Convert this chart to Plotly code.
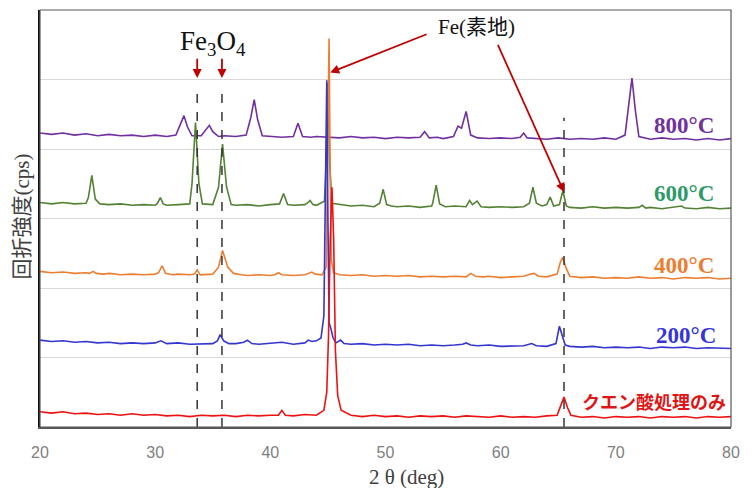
import plotly.graph_objects as go

# ---------------- data ----------------
x_800 = [20,21,22,23,24,25,26,27,28,29,30,31,31.8,32.2,32.5,32.8,33.2,34.0,34.4,34.7,35.0,35.5,36,37,37.9,38.3,38.6,38.9,39.3,40,41,42.0,42.4,42.8,43.5,44,45,46,47,48,49,50,51,52,53.0,53.4,53.8,54.5,55,55.9,56.3,56.6,57.0,57.4,58,59,60,61,61.7,62.0,62.3,63,64,65,66,67,68,69,70,70.8,71.1,71.4,71.7,72.0,73,74,75,76,77,78,79,80]
y_800 = [4.23,4.21,4.23,4.20,4.22,4.19,4.21,4.19,4.20,4.18,4.20,4.18,4.20,4.35,4.48,4.32,4.19,4.19,4.27,4.34,4.25,4.18,4.19,4.18,4.20,4.45,4.71,4.42,4.19,4.18,4.17,4.18,4.37,4.18,4.17,4.18,4.17,4.16,4.18,4.16,4.17,4.15,4.17,4.16,4.17,4.25,4.16,4.17,4.15,4.18,4.33,4.30,4.54,4.20,4.16,4.15,4.16,4.15,4.17,4.23,4.16,4.15,4.14,4.16,4.14,4.15,4.14,4.16,4.14,4.20,4.60,5.02,4.55,4.18,4.14,4.16,4.14,4.15,4.13,4.15,4.13,4.15]

x_600 = [20,21,22,23,24,24.2,24.5,24.8,25.2,26,27,28,29,30,30.2,30.45,30.7,31,32,33,33.2,33.5,33.8,34.1,35,35.5,35.85,36.2,36.6,37,38,39,40,40.8,41.15,41.5,42,43,43.2,43.45,43.7,44,44.7,44.85,45.0,45.15,45.35,46,47,48,49,49.5,49.8,50.1,50.5,51,52,53,54,54.1,54.4,54.7,55.2,56,57,57.3,57.55,57.95,58.3,59,60,61,62,62.5,62.8,63.1,63.6,64.0,64.3,64.6,65.1,65.4,65.7,66,67,68,69,70,71,72,72.3,72.6,73,74,75,75.7,76,77,78,79,80]
y_600 = [3.23,3.21,3.23,3.21,3.22,3.30,3.62,3.28,3.21,3.20,3.21,3.19,3.20,3.19,3.22,3.30,3.21,3.19,3.20,3.21,3.50,4.38,3.50,3.21,3.20,3.45,4.07,3.45,3.20,3.19,3.20,3.18,3.20,3.21,3.36,3.20,3.19,3.20,3.22,3.26,3.20,3.19,3.25,3.80,4.95,3.80,3.22,3.20,3.18,3.19,3.17,3.22,3.42,3.20,3.18,3.17,3.18,3.16,3.18,3.22,3.48,3.21,3.17,3.18,3.17,3.26,3.20,3.25,3.17,3.16,3.17,3.16,3.17,3.22,3.45,3.22,3.18,3.20,3.31,3.18,3.20,3.40,3.18,3.16,3.15,3.17,3.15,3.16,3.15,3.16,3.19,3.15,3.16,3.14,3.16,3.18,3.15,3.14,3.16,3.14,3.15]

x_400 = [20,21,22,23,24,24.3,24.6,24.9,25.5,26,27,28,29,30,30.3,30.6,30.9,31.5,32,33,33.4,33.65,33.9,34.5,35,35.5,35.85,36.3,36.8,37.5,38,39,40,40.4,40.7,41,42,43,43.3,43.6,43.9,44.5,44.85,44.97,45.1,45.2,45.3,45.5,46,47,48,49,50,51,52,53,54,55,56,57,57.4,57.8,58.5,59,60,61,62,62.6,62.9,63.3,64,64.9,65.2,65.4,65.65,66,67,68,69,70,71,72,73,74,75,76,77,78,79,80]
y_400 = [2.24,2.22,2.23,2.21,2.22,2.21,2.24,2.21,2.20,2.21,2.19,2.20,2.19,2.20,2.22,2.32,2.21,2.19,2.20,2.19,2.20,2.26,2.19,2.19,2.20,2.30,2.54,2.30,2.21,2.19,2.18,2.19,2.18,2.19,2.22,2.19,2.18,2.19,2.21,2.23,2.20,2.19,2.30,3.60,5.59,3.60,2.40,2.22,2.19,2.18,2.19,2.17,2.18,2.17,2.18,2.16,2.17,2.16,2.17,2.16,2.21,2.17,2.16,2.17,2.15,2.16,2.17,2.20,2.21,2.17,2.16,2.20,2.38,2.44,2.30,2.17,2.15,2.16,2.14,2.15,2.14,2.16,2.14,2.15,2.13,2.15,2.14,2.15,2.13,2.14]

x_200 = [20,21,22,23,24,25,26,27,28,29,30,30.5,31,32,33,34,35,35.4,35.65,35.95,36.4,37,37.7,38.0,38.4,39,40,40.7,41,42,43,43.3,43.6,44,44.4,44.65,44.8,44.9,45.0,45.1,45.25,45.45,45.7,46.1,46.4,47,48,49,50,51,52,53,54,55,56,56.7,57,57.4,58,59,60,61,62,62.7,63.1,64,64.8,65.1,65.35,65.6,66,67,68,69,70,71,72,73,74,75,76,77,78,79,80]
y_200 = [1.25,1.23,1.24,1.22,1.23,1.21,1.22,1.20,1.21,1.20,1.21,1.24,1.20,1.21,1.19,1.20,1.20,1.24,1.33,1.24,1.20,1.20,1.22,1.25,1.20,1.19,1.20,1.21,1.22,1.19,1.21,1.25,1.23,1.24,1.28,1.60,3.50,4.99,3.00,1.50,1.42,1.28,1.21,1.25,1.20,1.19,1.20,1.18,1.19,1.18,1.19,1.17,1.18,1.17,1.18,1.19,1.21,1.18,1.17,1.18,1.16,1.17,1.17,1.20,1.17,1.16,1.20,1.45,1.30,1.18,1.16,1.15,1.16,1.14,1.15,1.14,1.15,1.13,1.15,1.14,1.15,1.13,1.14,1.13,1.13]

x_acid = [20,21,22,23,24,25,26,27,28,29,30,31,32,33,34,35,36,37,38,39,40,40.7,41.0,41.3,42,43,44,44.65,44.9,45.05,45.2,45.35,45.5,45.65,45.85,46.15,47,48,49,50,51,52,53,54,55,56,57,58,59,60,61,62,63,64,64.9,65.2,65.5,65.8,66.1,67,68,69,70,71,72,73,74,75,76,77,78,79,80]
y_acid = [0.22,0.20,0.22,0.19,0.20,0.18,0.19,0.17,0.19,0.17,0.18,0.16,0.17,0.15,0.17,0.16,0.17,0.15,0.17,0.16,0.17,0.17,0.24,0.17,0.16,0.18,0.17,0.24,0.50,1.30,2.70,3.45,2.70,1.10,0.45,0.24,0.17,0.15,0.17,0.15,0.16,0.14,0.16,0.15,0.16,0.14,0.16,0.15,0.14,0.16,0.14,0.15,0.14,0.16,0.17,0.30,0.43,0.28,0.17,0.14,0.15,0.13,0.15,0.14,0.15,0.13,0.15,0.14,0.15,0.13,0.15,0.14,0.15]

series_names = ["800°C", "600°C", "400°C", "200°C", "クエン酸処理のみ"]
x_ticks = [20, 30, 40, 50, 60, 70, 80]
fe3o4_lines = [33.65, 35.8]
fe_line = [65.5]

# ---------------- figure ----------------
line_colors = ["#7030a0", "#548235", "#ed7d31", "#3535d0", "#ee1111"]
label_colors = ["#7030a0", "#2e9a6a", "#ed7d31", "#3535d8", "#e01515"]
xs = [x_800, x_600, x_400, x_200, x_acid]
ys = [y_800, y_600, y_400, y_200, y_acid]

fig = go.Figure()
for name, xv, yv, c in zip(series_names, xs, ys, line_colors):
    fig.add_trace(go.Scatter(x=xv, y=yv, mode="lines", name=name,
                             line=dict(color=c, width=1.6), showlegend=False))

# dashed reference lines
for xv in fe3o4_lines:
    fig.add_shape(type="line", xref="x", yref="y", x0=xv, x1=xv, y0=0, y1=4.9,
                  line=dict(color="#333333", width=1.5, dash="dash"), layer="above")
for xv in fe_line:
    fig.add_shape(type="line", xref="x", yref="y", x0=xv, x1=xv, y0=0, y1=4.45,
                  line=dict(color="#333333", width=1.5, dash="dash"), layer="above")

# plot border
fig.add_shape(type="rect", xref="paper", yref="paper", x0=0, x1=1, y0=0, y1=1,
              line=dict(color="#595959", width=1.2), layer="above")

# series labels
label_pos = [(78.7, 4.34), (78.7, 3.36), (78.7, 2.33), (78.9, 1.32), (79.7, 0.38)]
for name, (lx, ly), c in zip(series_names, label_pos, label_colors):
    if name.startswith("クエン"):
        fnt = dict(family="Noto Sans CJK JP", size=18, color=c)
    else:
        fnt = dict(family="Liberation Serif", size=23, color=c)
    fig.add_annotation(x=lx, y=ly, xref="x", yref="y", text="<b>" + name + "</b>",
                       showarrow=False, xanchor="right", yanchor="middle", font=fnt)

arrow_col = "#c00000"
# Fe3O4 label and arrows
fig.add_annotation(x=35.0, y=5.53, xref="x", yref="y", text="Fe<sub>3</sub>O<sub>4</sub>",
                   showarrow=False, font=dict(family="Liberation Serif", size=27, color="#111111"))
for xv in fe3o4_lines:
    fig.add_annotation(x=xv, y=5.02, xref="x", yref="y", ax=xv, ay=5.32, axref="x", ayref="y",
                       text="", showarrow=True, arrowhead=2, arrowsize=1, arrowwidth=1.8,
                       arrowcolor=arrow_col)

# Fe(素地) label and arrows
fig.add_annotation(x=57.9, y=5.75, xref="x", yref="y", text="Fe(素地)", showarrow=False,
                   font=dict(family="Liberation Serif, Noto Sans CJK JP", size=21, color="#111111"))
fig.add_annotation(x=45.2, y=5.1, xref="x", yref="y", ax=53.7, ay=5.66, axref="x", ayref="y",
                   text="", showarrow=True, arrowhead=2, arrowsize=1, arrowwidth=1.8,
                   arrowcolor=arrow_col)
fig.add_annotation(x=65.5, y=3.38, xref="x", yref="y", ax=59.7, ay=5.52, axref="x", ayref="y",
                   text="", showarrow=True, arrowhead=2, arrowsize=1, arrowwidth=1.8,
                   arrowcolor=arrow_col)

# axis titles
fig.add_annotation(x=-0.026, y=0.505, xref="paper", yref="paper", text="回折強度(cps)",
                   textangle=-90, showarrow=False, xanchor="center", yanchor="middle",
                   font=dict(family="Liberation Serif, Noto Sans CJK JP", size=21, color="#404040"))
fig.add_annotation(x=0.53, y=-0.12, xref="paper", yref="paper", text="2 θ (deg)",
                   showarrow=False, xanchor="center", yanchor="middle",
                   font=dict(family="Liberation Serif", size=21, color="#404040"))

fig.update_layout(
    width=752, height=488,
    margin=dict(l=40, r=21, t=10, b=61),
    paper_bgcolor="white", plot_bgcolor="white",
    xaxis=dict(range=[20, 80], tickvals=x_ticks, ticktext=[str(t) for t in x_ticks],
               showgrid=False, zeroline=False, showline=True, linecolor="#595959", linewidth=1.5,
               ticks="outside", ticklen=10, tickcolor="rgba(0,0,0,0)",
               tickfont=dict(family="Liberation Sans", size=16, color="#808080")),
    yaxis=dict(range=[0, 6], dtick=1, showticklabels=False, showgrid=True,
               gridcolor="#d9d9d9", gridwidth=1, zeroline=False,
               showline=True, linecolor="#111111", linewidth=2),
)

fig.write_html("out.html", config={"displayModeBar": False},
               post_script="document.body.style.margin='0';")
